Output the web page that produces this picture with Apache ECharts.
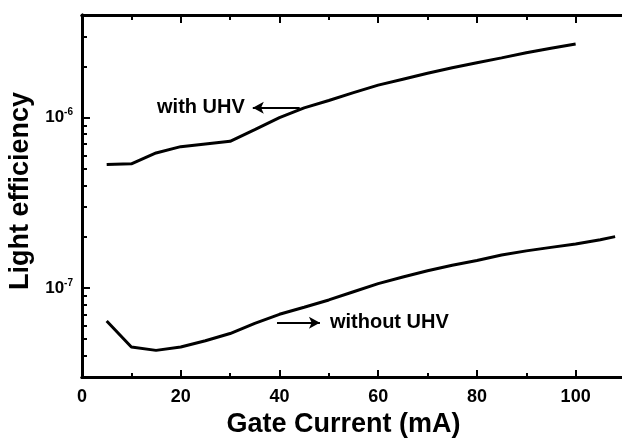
<!DOCTYPE html>
<html>
<head>
<meta charset="utf-8">
<script src="https://cdn.jsdelivr.net/npm/echarts@6/dist/echarts.min.js"></script>
<style>
html, body { margin: 0; padding: 0; background: #fff; }
#chart { width: 622px; height: 440px; }
</style>
</head>
<body>
<div id="chart"></div>
<script>
// gate current (mA)
var currentWith = [5, 10, 15, 20, 25, 30, 35, 40, 45, 50, 55, 60, 65, 70, 75, 80, 85, 90, 95, 100];
var effWith = [5.3e-7, 5.35e-7, 6.2e-7, 6.75e-7, 7.0e-7, 7.25e-7, 8.5e-7, 1.0e-6, 1.14e-6, 1.26e-6,
  1.4e-6, 1.55e-6, 1.68e-6, 1.82e-6, 1.96e-6, 2.1e-6, 2.24e-6, 2.4e-6, 2.55e-6, 2.7e-6];

var currentWithout = [5, 10, 15, 20, 25, 30, 35, 40, 45, 50, 55, 60, 65, 70, 75, 80, 85, 90, 95, 100, 105, 108];
var effWithout = [6.4e-8, 4.5e-8, 4.3e-8, 4.5e-8, 4.9e-8, 5.4e-8, 6.2e-8, 7.0e-8, 7.7e-8, 8.5e-8, 9.5e-8,
  1.06e-7, 1.16e-7, 1.26e-7, 1.36e-7, 1.45e-7, 1.56e-7, 1.65e-7, 1.73e-7, 1.81e-7, 1.92e-7, 2.0e-7];

var xMajor = [0, 20, 40, 60, 80, 100];
var xMinor = [10, 30, 50, 70, 90];
var yMajor = [1e-7, 1e-6];
var yMinor = [4e-8, 5e-8, 6e-8, 7e-8, 8e-8, 9e-8, 2e-7, 3e-7, 4e-7, 5e-7, 6e-7, 7e-7, 8e-7, 9e-7, 2e-6, 3e-6];

var font = 'Liberation Sans, Arial, sans-serif';

function pairs(xs, ys) {
  return xs.map(function (x, i) { return [x, ys[i]]; });
}

function xAxisOf(pos, ticks, len, label) {
  return {
    type: 'value', position: pos, min: 0, max: 110,
    axisLine: { show: true, onZero: false, lineStyle: { color: '#000', width: 3 } },
    axisTick: { show: true, inside: true, length: len, customValues: ticks, lineStyle: { color: '#000', width: 2 } },
    axisLabel: label ? {
      customValues: xMajor, margin: 11, color: '#000', fontFamily: font, fontWeight: 'bold', fontSize: 18
    } : { show: false },
    splitLine: { show: false }
  };
}

function yAxisOf(ticks, len, label) {
  return {
    type: 'log', logBase: 10, position: 'left', min: 3e-8, max: 4e-6,
    axisLine: { show: true, onZero: false, lineStyle: { color: '#000', width: 3 } },
    axisTick: { show: true, inside: true, length: len, customValues: ticks, lineStyle: { color: '#000', width: 2 } },
    axisLabel: label ? {
      customValues: yMajor, margin: 9,
      formatter: function (v) { return '{a|10}{b|' + Math.round(Math.log10(v)) + '}'; },
      rich: {
        a: { fontFamily: font, fontWeight: 'bold', fontSize: 17, color: '#000', lineHeight: 20 },
        b: { fontFamily: font, fontWeight: 'bold', fontSize: 10, color: '#000', verticalAlign: 'top', lineHeight: 12 }
      }
    } : { show: false },
    splitLine: { show: false }
  };
}

var xAx = xAxisOf('bottom', xMajor, 7, true);
xAx.name = 'Gate Current (mA)';
xAx.nameLocation = 'middle';
xAx.nameGap = 30;
xAx.nameTextStyle = { fontFamily: font, fontWeight: 'bold', fontSize: 27, color: '#000', padding: [0, 20, 0, 0] };

var yAx = yAxisOf(yMajor, 8, true);
yAx.name = 'Light efficiency';
yAx.nameLocation = 'middle';
yAx.nameGap = 48;
yAx.nameTextStyle = { fontFamily: font, fontWeight: 'bold', fontSize: 27, color: '#000', padding: [0, 0, 0, 10] };

var lineStyle = { color: '#000', width: 3 };

var chart = echarts.init(document.getElementById('chart'));
chart.setOption({
  animation: false,
  backgroundColor: '#fff',
  grid: { left: 82, top: 15, right: -3, bottom: 63, outerBoundsMode: 'none', containLabel: false },
  xAxis: [
    xAx,
    xAxisOf('bottom', xMinor, 4, false),
    xAxisOf('top', xMajor, 8, false),
    xAxisOf('top', xMinor, 5, false)
  ],
  yAxis: [
    yAx,
    yAxisOf(yMinor, 5, false)
  ],
  series: [
    {
      name: 'with UHV', type: 'line', showSymbol: false, symbol: 'none',
      data: pairs(currentWith, effWith), lineStyle: lineStyle, itemStyle: { color: '#000' },
      markLine: {
        silent: true, symbol: ['none', 'arrow'], symbolSize: [9, 11],
        lineStyle: { color: '#000', width: 2, type: 'solid' },
        label: { show: true, position: 'end', distance: 8, formatter: 'with UHV',
          fontFamily: font, fontWeight: 'bold', fontSize: 20, color: '#000' },
        data: [[{ coord: [44.1, 1.14e-6] }, { coord: [34.6, 1.14e-6] }]]
      }
    },
    {
      name: 'without UHV', type: 'line', showSymbol: false, symbol: 'none',
      data: pairs(currentWithout, effWithout), lineStyle: lineStyle, itemStyle: { color: '#000' },
      markLine: {
        silent: true, symbol: ['none', 'arrow'], symbolSize: [9, 11],
        lineStyle: { color: '#000', width: 2, type: 'solid' },
        label: { show: true, position: 'end', distance: 10, formatter: 'without UHV',
          fontFamily: font, fontWeight: 'bold', fontSize: 20, color: '#000' },
        data: [[{ coord: [39.5, 6.24e-8] }, { coord: [48.2, 6.24e-8] }]]
      }
    }
  ]
});
</script>
</body>
</html>
